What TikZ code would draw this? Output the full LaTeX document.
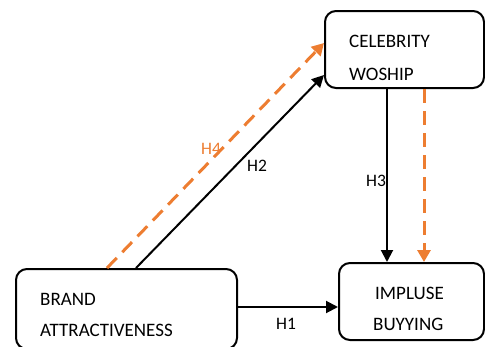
\documentclass[tikz,border=0pt]{standalone}
\usepackage{fontspec}
\setmainfont{Carlito}
\usetikzlibrary{arrows.meta,calc}
\definecolor{orng}{HTML}{ED7D31}
\tikzset{
  box/.style={draw=black, line width=2pt, rounded corners=11pt, rectangle, inner sep=0pt},
  boxtxt/.style={anchor=base west, inner sep=0pt, font=\fontsize{19}{23}\selectfont},
  hlab/.style={inner sep=0pt, font=\fontsize{17.5}{21}\selectfont},
  blk/.style={draw=black, line width=2pt, -{Triangle[length=12pt,width=12pt]}},
  org/.style={draw=orng, line width=3pt, dash pattern=on 14pt off 8pt, -{Triangle[length=12pt,width=13pt,fill=orng]}, color=orng},
}
\begin{document}
\begin{tikzpicture}[x=1pt,y=-1pt]
\useasboundingbox (0,0) rectangle (485,346);
% boxes
\node[box, minimum width=159pt, minimum height=77pt] (celeb) at (404.5,49.5) {};
\node[box, minimum width=221pt, minimum height=80pt] (brand) at (126.5,309) {};
\node[box, minimum width=145pt, minimum height=77pt] (impulse) at (411.5,301.5) {};
% texts
\node[boxtxt] (t1) at (349,47) {CELEBRITY};
\node[boxtxt] (t2) at (349,80) {WOSHIP};
\node[boxtxt] (t3) at (40,305) {BRAND};
\node[boxtxt] (t4) at (40,336) {ATTRACTIVENESS};
\node[boxtxt] (t5) at (375,299) {IMPLUSE};
\node[boxtxt] (t6) at (373,330) {BUYYING};
% connectors
\draw[org] ([xshift=92pt]brand.north west) -- ([yshift=6.5pt]celeb.west);
\draw[blk] ([xshift=121pt]brand.north west) -- ([yshift=-25.5pt]celeb.west);
\draw[blk] ([xshift=63pt]celeb.south west) -- ([xshift=63pt]celeb.south west |- impulse.north);
\draw[org] ([xshift=100pt]celeb.south west) -- ([xshift=100pt]celeb.south west |- impulse.north);
\draw[blk] ([yshift=2pt]brand.east) -- ([yshift=2pt]brand.east -| impulse.west);
% labels
\node[hlab] (h1) at (286,324) {H1};
\node[hlab] (h2) at (257,166) {H2};
\node[hlab] (h3) at (376,181) {H3};
\node[hlab, text=orng] (h4) at (211,149) {H4};
\end{tikzpicture}
\end{document}
